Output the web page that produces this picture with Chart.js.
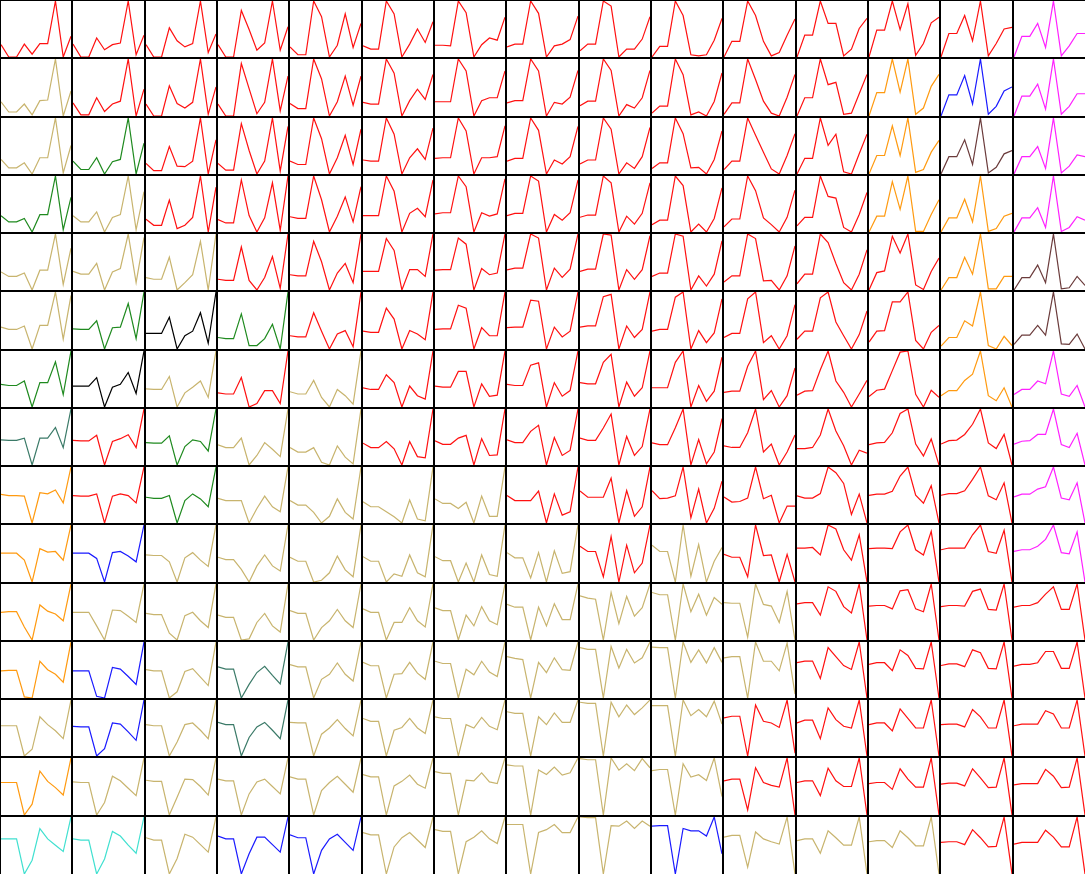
<!DOCTYPE html>
<html>
<head>
<meta charset="utf-8">
<script src="https://cdn.jsdelivr.net/npm/chart.js@4.4.1/dist/chart.umd.min.js"></script>
<style>
  html, body { margin: 0; padding: 0; background: #fff; }
  #grid { position: relative; width: 1085px; height: 874px; background: #000; overflow: hidden; }
  #grid canvas { position: absolute; background: #fff; }
</style>
</head>
<body>
<div id="grid"></div>
<script>
// 10 points per small chart, each chart scaled to its own min/max
const steps = ['1','2','3','4','5','6','7','8','9','10'];

const row0 = [
  [22,0,0,23,5,24,24,100,0,37],[23,0,0,34,13,22,25,100,4,39],[22,0,0,52,29,18,24,100,8,41],
  [22,0,0,83,49,12,25,100,12,54],[18,4,4,100,72,0,21,77,17,60],[20,14,14,100,77,0,23,50,26,63],
  [21,21,20,100,79,0,22,34,30,71],[18,23,23,100,78,0,20,23,31,73],[11,23,23,100,91,0,14,14,32,72],
  [0,19,19,100,74,4,2,4,30,69],[0,28,28,100,74,28,2,8,39,68],[0,39,39,100,60,60,2,14,51,69],
  [0,48,48,100,49,95,3,24,61,71],[0,42,42,74,29,100,2,24,50,53],[0,37,37,60,17,100,2,20,42,42]
];
const row1 = [
  [25,7,7,21,2,27,28,100,0,44],[23,2,2,32,8,21,26,100,0,47],[21,0,0,53,22,14,24,100,3,51],
  [21,0,0,92,48,4,24,100,9,70],[22,13,13,100,65,0,25,70,19,70],[24,21,21,100,75,0,27,47,29,73],
  [25,25,25,100,79,0,27,32,32,79],[23,27,27,100,79,0,24,21,33,80],[18,26,26,100,80,0,20,14,32,80],
  [7,19,19,100,73,4,9,2,27,76],[3,23,23,100,64,26,5,0,33,73],[0,32,32,100,55,59,3,5,39,73],
  [0,41,41,100,42,100,3,14,52,73],[0,37,37,71,21,100,3,17,44,51],[0,35,35,56,12,100,3,17,39,39]
];
const row2 = [
  [26,11,11,20,0,29,29,100,2,51],[23,8,8,29,0,22,26,100,0,55],[19,6,6,49,14,13,23,100,0,61],
  [19,7,7,90,42,0,23,100,5,85],[23,17,17,100,63,0,29,69,17,80],[25,23,23,100,71,0,29,45,26,82],
  [28,29,29,100,77,0,29,29,31,86],[23,28,28,100,78,0,25,18,31,85],[18,25,25,100,80,0,20,10,31,83],
  [10,20,20,100,72,11,12,0,26,77],[8,23,23,100,69,39,9,0,33,72],[0,28,28,100,51,71,4,0,36,71],
  [0,33,33,86,33,100,3,8,39,60],[0,31,31,61,17,100,2,12,36,42],[0,31,31,49,10,100,2,14,34,31]
];
const row3 = [
  [29,18,18,24,0,31,31,100,4,62],[29,18,18,36,0,26,31,100,4,72],[23,12,12,57,6,12,26,100,0,80],
  [23,17,17,93,30,1,26,88,4,100],[28,25,25,100,58,1,29,63,19,81],[30,30,30,100,73,1,34,43,28,93],
  [33,35,35,100,81,1,35,29,33,95],[30,34,34,100,91,1,32,22,35,93],[27,31,31,100,88,1,29,15,34,88],
  [14,22,22,100,83,1,15,1,25,79],[10,24,24,100,74,26,14,1,27,75],[12,27,27,100,64,61,9,1,32,71],
  [1,29,29,90,41,100,2,2,32,58],[1,26,26,59,19,100,2,7,29,34],[1,26,26,44,9,100,2,9,28,22]
];
const row4 = [
  [33,25,25,31,1,36,36,100,11,75],[34,29,29,48,1,33,39,100,14,94],[23,20,20,59,1,14,28,87,1,100],
  [20,18,18,77,18,1,23,60,4,100],[28,26,26,87,51,1,31,48,14,100],[34,34,34,92,71,1,37,37,25,100],
  [36,37,37,93,82,1,39,28,31,100],[36,39,39,98,91,1,39,23,37,98],[34,38,38,100,98,1,37,20,37,97],
  [25,31,31,100,96,1,26,8,29,88],[15,26,26,100,92,17,18,1,26,79],[12,29,29,100,85,48,14,1,29,72],
  [0,31,34,96,66,100,9,1,33,57],[1,23,23,59,29,100,3,3,25,25],[1,23,23,45,14,100,3,5,25,9]
];
const row5 = [
  [39,35,35,41,1,42,42,100,18,94],[36,35,35,50,1,38,39,80,19,100],[28,28,28,56,1,24,32,64,11,100],
  [21,19,19,62,7,7,19,44,1,100],[24,22,22,64,32,1,27,33,5,100],[32,30,30,72,53,1,33,27,17,100],
  [35,36,36,77,72,1,38,24,24,100],[38,39,39,86,84,1,39,22,32,100],[39,41,41,92,96,1,41,21,35,100],
  [32,35,35,91,100,1,33,12,29,88],[21,28,28,88,100,12,24,1,24,78],[18,32,32,90,100,48,24,1,26,67],
  [13,32,33,83,83,100,16,1,30,42],[6,21,21,50,41,100,7,1,23,7],[9,25,25,42,25,100,10,9,27,1]
];
const row6 = [
  [41,39,39,47,1,44,44,81,23,100],[38,38,38,53,1,36,41,62,25,100],[33,32,32,55,1,26,36,47,18,100],
  [26,24,24,53,1,7,30,30,7,100],[28,24,24,48,18,1,32,21,6,100],[35,32,32,58,44,1,38,21,15,100],
  [38,36,36,64,64,1,42,20,22,100],[41,39,39,75,79,1,44,20,30,100],[44,42,42,80,94,1,45,20,35,100],
  [35,35,35,80,100,1,39,11,29,89],[27,29,29,73,100,14,30,1,21,70],[22,29,30,67,100,47,27,1,24,48],
  [19,30,32,64,96,98,23,1,30,18],[21,30,30,48,59,100,21,12,35,1],[23,32,32,47,42,100,24,20,39,1]
];
const row7 = [
  [45,44,44,48,0,48,48,67,31,100],[44,43,43,53,0,42,47,54,31,100],[40,39,39,52,0,33,45,42,25,100],
  [36,31,31,48,0,17,40,28,15,100],[31,23,23,31,5,0,34,14,2,100],[39,31,31,42,29,0,42,15,13,100],
  [43,37,37,48,53,0,47,17,18,100],[45,40,40,60,71,0,49,17,26,100],[48,44,44,66,91,0,51,17,33,100],
  [39,36,36,66,99,0,45,2,23,82],[34,31,31,57,99,23,37,0,23,53],[29,29,31,53,99,60,34,0,26,21],
  [36,39,40,57,91,99,37,16,46,0],[37,43,44,54,72,99,39,29,54,0],[37,42,43,54,54,99,36,31,56,0]
];
const row8 = [
  [51,49,49,48,0,54,52,59,36,100],[49,48,48,52,0,48,52,49,36,100],[46,44,44,49,0,40,52,43,29,100],
  [44,40,40,40,0,26,48,29,20,100],[40,32,32,19,0,12,43,19,7,100],[38,29,29,20,11,0,41,7,4,100],
  [43,35,35,26,37,0,48,12,12,100],[49,40,40,40,57,0,52,14,20,100],[57,46,46,46,80,0,58,12,29,100],
  [57,43,44,48,99,9,60,0,26,74],[46,37,38,44,99,43,49,0,30,30],[48,44,44,52,99,89,70,15,51,0],
  [49,51,51,56,83,99,49,35,66,0],[49,52,52,57,77,99,48,41,71,0],[46,51,51,60,64,99,44,41,71,0]
];
const row9 = [
  [51,51,51,39,1,59,53,54,39,100],[51,51,51,42,1,52,54,46,36,100],[48,47,47,36,1,43,52,39,28,100],
  [44,40,40,23,1,29,48,29,20,100],[44,37,37,1,4,17,46,22,10,100],[45,37,37,1,15,11,48,17,10,100],
  [45,38,38,1,34,1,48,14,11,100],[52,43,43,8,52,1,55,16,19,100],[63,54,54,10,80,1,65,17,34,100],
  [65,54,54,1,100,11,66,1,37,61],[49,44,44,10,100,47,48,1,49,1],[60,60,61,48,100,93,57,39,83,1],
  [59,60,60,59,88,100,57,48,89,1],[57,60,60,60,83,100,54,51,91,1],[54,57,57,63,75,100,52,50,88,1]
];
const row10 = [
  [50,51,51,24,1,63,52,47,35,100],[50,50,50,26,1,54,53,43,32,100],[48,46,46,13,1,44,50,35,23,100],
  [45,41,41,1,3,32,48,26,15,100],[53,48,48,1,23,35,55,35,23,100],[56,50,50,1,32,32,58,35,24,100],
  [58,53,53,1,45,26,60,35,28,100],[64,59,59,1,59,26,65,37,37,100],[79,75,73,1,85,30,78,43,58,100],
  [85,81,81,1,100,51,82,45,76,64],[67,66,66,6,100,64,61,32,87,1],[65,67,67,45,95,87,60,49,100,1],
  [61,62,62,56,88,90,56,51,100,1],[60,62,62,61,87,91,55,54,100,1],[59,62,62,67,82,95,55,55,100,1]
];
const row11 = [
  [49,50,50,3,1,66,51,43,29,100],[49,49,49,4,1,55,52,39,25,100],[51,49,49,1,12,48,53,38,23,100],
  [56,52,52,1,25,46,57,41,26,100],[60,56,56,1,34,43,63,43,31,100],[64,58,58,1,43,44,64,45,34,100],
  [66,62,62,1,52,42,66,47,39,100],[74,71,69,1,64,46,72,51,50,100],[90,87,87,1,92,54,87,63,72,100],
  [91,90,90,1,100,64,86,63,90,64],[72,74,74,1,100,66,66,49,98,8],[63,66,66,35,90,74,58,51,100,0],
  [60,63,63,49,86,76,53,52,100,0],[58,61,61,56,86,81,53,52,100,0],[57,60,60,63,83,83,53,53,100,0]
];
const row12 = [
  [54,54,54,0,12,70,56,45,31,100],[53,52,52,0,13,59,57,43,28,100],[56,54,54,0,25,56,59,46,31,100],
  [60,56,56,0,33,52,60,46,31,100],[60,59,59,0,39,50,65,49,36,100],[67,62,62,0,46,51,67,50,40,100],
  [70,67,67,0,56,50,69,53,47,100],[79,76,76,0,70,56,77,60,60,100],[96,94,94,0,96,70,91,74,86,100],
  [90,90,90,0,100,72,83,70,98,57],[68,71,71,0,91,62,59,51,100,5],[59,64,64,31,86,65,53,50,100,0],
  [56,59,59,45,84,67,50,50,100,0],[56,57,57,52,83,70,50,50,100,0],[54,57,57,57,81,75,50,50,100,0]
];
const row13 = [
  [57,57,57,0,19,77,59,48,35,100],[58,57,57,0,22,68,60,47,34,100],[61,59,59,0,31,63,62,50,35,100],
  [63,60,60,0,37,58,63,50,37,100],[67,63,63,0,43,57,68,54,40,100],[71,67,67,0,51,59,70,54,47,100],
  [76,73,73,0,61,60,74,58,55,100],[88,86,86,0,79,71,84,70,74,100],[98,96,96,0,99,78,89,77,98,82],
  [77,79,79,0,89,66,70,60,99,32],[60,63,63,9,83,57,52,49,100,0],[57,60,60,34,82,60,50,50,100,0],
  [55,57,57,45,81,63,49,49,100,0],[54,56,56,51,81,65,48,49,100,0],[53,55,55,55,80,68,48,49,100,0]
];
const row14 = [
  [62,62,62,1,25,80,62,51,40,100],[62,60,60,1,27,75,67,51,37,100],[64,60,60,1,28,70,65,52,39,100],
  [67,62,62,1,36,65,65,52,39,100],[69,64,64,1,42,62,70,56,42,100],[73,69,69,1,48,64,73,60,47,100],
  [78,75,75,1,57,65,76,62,54,100],[87,87,87,1,73,78,87,73,73,100],[100,99,99,1,85,84,93,80,93,84],
  [84,85,85,1,80,76,76,67,100,36],[65,68,68,13,74,62,57,53,100,1],[59,62,62,37,76,64,51,51,100,1],
  [57,59,59,47,76,64,50,50,100,1],[56,57,57,52,78,64,48,49,100,1],[53,56,56,56,77,65,48,48,100,1]
];
const rows = [row0,row1,row2,row3,row4,row5,row6,row7,row8,row9,row10,row11,row12,row13,row14];

// one letter per cell -> line colour
const colourRows = [
  'RRRRRRRRRRRRRRM',
  'TRRRRRRRRRRROBM',
  'TGRRRRRRRRRRONM',
  'GTRRRRRRRRRROOM',
  'TTTRRRRRRRRRRON',
  'TGKGRRRRRRRRRON',
  'GKTRTRRRRRRRROM',
  'SRGTTRRRRRRRRRM',
  'ORGTTTTRRRRRRRM',
  'OBTTTTTTRTRRRRM',
  'OTTTTTTTTTTRRRR',
  'OBTSTTTTTTTRRRR',
  'TBTSTTTTTTRRRRR',
  'OTTTTTTTTTRRRRR',
  'QQTBBTTTTBTTTRR'
];
const palette = {
  R: '#ff1010', T: '#c8b46e', G: '#1f8a1f', K: '#000000', B: '#1a1aff',
  O: '#ff9a10', M: '#ff20ff', N: '#6b3b3b', S: '#3b7a68', Q: '#40e0d0'
};

const grid = document.getElementById('grid');
const W = 1085, H = 874, N = 15;

rows.forEach((row, r) => {
  row.forEach((vals, c) => {
    const x0 = Math.round(c * W / N), x1 = Math.round((c + 1) * W / N);
    const y0 = Math.round(r * H / N), y1 = Math.round((r + 1) * H / N);
    const left = x0 + 1, top = y0 + 1;
    const w = x1 - x0 - 2 + (c == N - 1 ? 1 : 0);
    const h = y1 - y0 - 2 + (r == N - 1 ? 1 : 0);

    const cv = document.createElement('canvas');
    cv.width = w; cv.height = h;
    cv.style.left = left + 'px'; cv.style.top = top + 'px';
    cv.style.width = w + 'px'; cv.style.height = h + 'px';
    grid.appendChild(cv);

    new Chart(cv.getContext('2d'), {
      type: 'line',
      data: {
        labels: steps,
        datasets: [{
          data: vals,
          borderColor: palette[colourRows[r][c]],
          borderWidth: 1.2,
          pointRadius: 0,
          tension: 0,
          fill: false
        }]
      },
      options: {
        responsive: false,
        animation: false,
        devicePixelRatio: 1,
        events: [],
        layout: { padding: 0 },
        plugins: { legend: { display: false }, tooltip: { enabled: false } },
        scales: {
          x: { display: false, offset: false },
          y: { display: false, min: Math.min(...vals), max: Math.max(...vals) }
        }
      }
    });
  });
});
</script>
</body>
</html>
